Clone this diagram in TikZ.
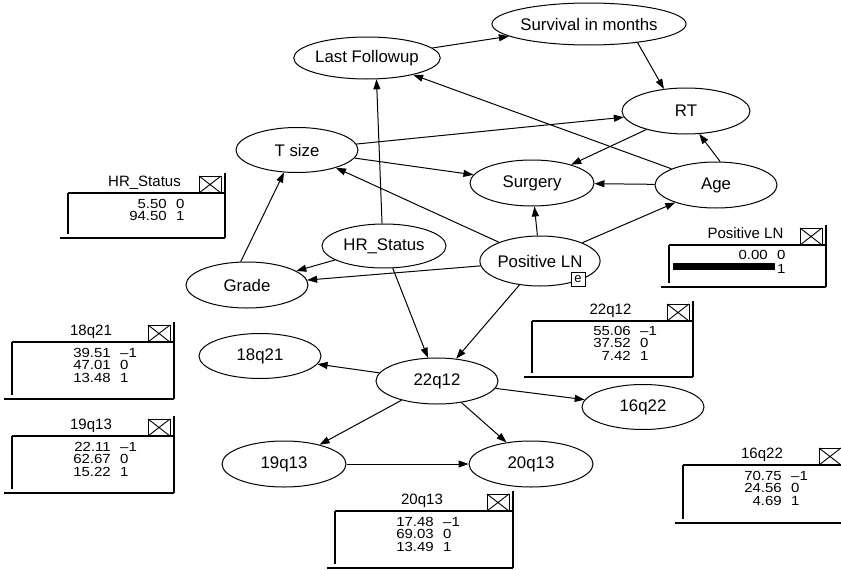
\documentclass[tikz,border=0pt]{standalone}
\usepackage{fontspec}
\usepackage{graphicx}
\setmainfont{Liberation Sans}
\usetikzlibrary{shapes.geometric,arrows.meta}
\newcommand{\sqz}[1]{\scalebox{1}[0.88]{#1}}
\newcommand{\monbox}[6]{% #1 id, #2 L, #3 T, #4 R, #5 B, #6 title
  \draw[monline] (#2,#3) -- (#4,#3);
  \draw[monline] (#4,#3-20) -- (#4,#5);
  \draw[monline] (#2,#3) -- (#2,#5-4);
  \draw[monline] (#2-8,#5) -- (#4,#5);
  \node[montxt,anchor=base] (#1-title) at ({(#2+#4)/2-2},#3-7) {#6};
  \draw[icon] (#4-26,#3-17) rectangle (#4-4,#3);
  \draw[icon] (#4-26,#3-17) -- (#4-4,#3) (#4-26,#3) -- (#4-4,#3-17);
}
\newcommand{\monrow}[5]{% id, L, baseline y, number, label
  \node[montxt,anchor=base east] (#1-n) at (#2+99,#3) {\sqz{#4}};
  \node[montxt,anchor=base west] (#1-l) at (#2+108,#3) {\sqz{#5}};
}
\begin{document}
\begin{tikzpicture}[x=1pt,y=-1pt,
  bn/.style={ellipse,draw,line width=1pt,minimum width=122pt,minimum height=45pt,inner sep=0pt,font=\fontsize{16.8}{19}\selectfont},
  arr/.style={line width=1pt,-{Triangle[length=10pt,width=7pt]}},
  monline/.style={line width=1.6pt},
  montxt/.style={font=\fontsize{15}{15}\selectfont,inner sep=0pt},
  icon/.style={line width=0.9pt},
  ebox/.style={draw,line width=0.8pt,minimum size=14pt,inner sep=0pt,fill=white,font=\fontsize{13}{13}\selectfont}]
\useasboundingbox (0,0) rectangle (841,570);

% ---- network nodes ----
\node[bn,minimum width=154pt,minimum height=42pt] (surv) at (589,24) {Survival in months};
\node[bn,minimum width=146pt,minimum height=42pt] (lastf) at (367,58) {Last Followup};
\node[bn,minimum width=128pt,minimum height=46pt] (rt) at (686,111) {RT};
\node[bn] (tsize) at (297,150) {T size};
\node[bn,minimum width=124pt,minimum height=46pt] (surgery) at (532,183) {Surgery};
\node[bn,minimum height=46pt] (age) at (716,185) {Age};
\node[bn,minimum width=124pt,minimum height=44pt] (hr) at (384,246) {HR\_Status};
\node[bn,minimum width=104pt,minimum height=50pt] (pln) at (540,261) {Positive LN};
\node[bn,minimum height=46pt] (grade) at (247,285) {Grade};
\node[bn] (q18) at (260,356) {18q21};
\node[bn,minimum height=46pt] (q22) at (437,381) {22q12};
\node[bn] (q16) at (643,407) {16q22};
\node[bn,minimum width=124pt,minimum height=46pt] (q19) at (284,464) {19q13};
\node[bn,minimum width=124pt,minimum height=46pt] (q20) at (531,464) {20q13};
\node[ebox] (pln-e) at (578,279) {e};

% ---- arrows ----
\draw[arr] (lastf) -- (surv);
\draw[arr] (surv.339) -- (rt.135);
\draw[arr] (tsize) -- (rt);
\draw[arr] (tsize) -- (surgery);
\draw[arr] (age.80) -- (rt.300);
\draw[arr] (rt) -- (surgery);
\draw[arr] (age) -- (surgery);
\draw[arr] (age) -- (lastf);
\draw[arr] (hr.95) -- (lastf.294);
\draw[arr] (pln) -- (tsize);
\draw[arr] (pln) -- (surgery);
\draw[arr] (pln) -- (age);
\draw[arr] (grade.105) -- (tsize.240);
\draw[arr] (hr) -- (grade);
\draw[arr] (pln) -- (grade);
\draw[arr] (hr) -- (q22);
\draw[arr] (pln) -- (q22);
\draw[arr] (q22) -- (q18);
\draw[arr] (q22) -- (q16);
\draw[arr] (q22) -- (q19);
\draw[arr] (q22) -- (q20);
\draw[arr] (q19) -- (q20);

% ---- monitor windows ----
\monbox{mhr}{68}{193}{225}{238}{HR\_Status}
\monrow{mhr1}{68}{208}{5.50}{0}
\monrow{mhr2}{68}{220.5}{94.50}{1}

\monbox{mpln}{669}{245}{826}{287}{Positive LN}
\monrow{mpln1}{669}{259}{0.00}{0}
\fill (673,263) rectangle (775,270);
\node[montxt,anchor=base west] (mpln2-l) at (777,273) {\sqz{1}};

\monbox{m18}{12}{342}{174}{399}{18q21}
\monrow{m18a}{12}{357}{39.51}{\textendash 1}
\monrow{m18b}{12}{369.5}{47.01}{0}
\monrow{m18c}{12}{382}{13.48}{1}

\monbox{m19}{12}{436}{174}{493}{19q13}
\monrow{m19a}{12}{451}{22.11}{\textendash 1}
\monrow{m19b}{12}{463.5}{62.67}{0}
\monrow{m19c}{12}{476}{15.22}{1}

\monbox{m22}{532}{321}{693}{377}{22q12}
\monrow{m22a}{532}{335}{55.06}{\textendash 1}
\monrow{m22b}{532}{347.5}{37.52}{0}
\monrow{m22c}{532}{360}{7.42}{1}

\monbox{m16}{683}{465}{845}{523}{16q22}
\monrow{m16a}{683}{480}{70.75}{\textendash 1}
\monrow{m16b}{683}{492.5}{24.56}{0}
\monrow{m16c}{683}{505}{4.69}{1}

\monbox{m20}{335}{511}{513}{568}{20q13}
\monrow{m20a}{335}{526}{17.48}{\textendash 1}
\monrow{m20b}{335}{538.5}{69.03}{0}
\monrow{m20c}{335}{551}{13.49}{1}
\end{tikzpicture}
\end{document}
